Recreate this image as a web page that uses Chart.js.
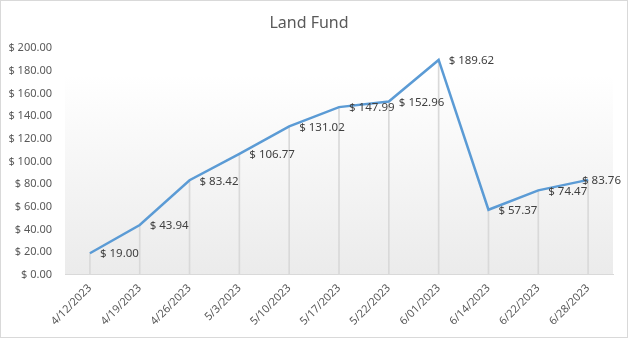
<!DOCTYPE html>
<html><head><meta charset="utf-8">
<script src="https://cdn.jsdelivr.net/npm/chart.js@4/dist/chart.umd.min.js"></script>
<style>
html,body{margin:0;padding:0;background:#fff;}
#wrap{width:628px;height:338px;box-sizing:border-box;border:1px solid #d9d9d9;background:#fff;}
canvas{display:block;}
</style></head><body>
<div id="wrap"><canvas id="c" width="626" height="336"></canvas></div>
<script>
const categories = ['4/12/2023','4/19/2023','4/26/2023','5/3/2023','5/10/2023','5/17/2023','5/22/2023','6/01/2023','6/14/2023','6/22/2023','6/28/2023'];
const landFund = [19.00, 43.94, 83.42, 106.77, 131.02, 147.99, 152.96, 189.62, 57.37, 74.47, 83.76];
const yTicks = [0, 20, 40, 60, 80, 100, 120, 140, 160, 180, 200];

const FONT = "'Noto Sans', 'Open Sans', sans-serif";
const TXT = '#595959';

const bgPlugin = {
  id: 'bg',
  beforeDraw(chart) {
    const {ctx, chartArea: a} = chart;
    const g = ctx.createLinearGradient(0, a.top, 0, a.bottom);
    g.addColorStop(0, '#ffffff');
    g.addColorStop(0.12, '#ffffff');
    g.addColorStop(1, '#ebebeb');
    ctx.save();
    ctx.fillStyle = g;
    ctx.fillRect(a.left, a.top, a.right - a.left, a.bottom - a.top);
    ctx.restore();
  }
};

const labelPlugin = {
  id: 'dlabels',
  afterDatasetsDraw(chart) {
    const meta = chart.getDatasetMeta(1);
    const ds = chart.data.datasets[1];
    const ctx = chart.ctx;
    ctx.save();
    ctx.font = "11.5px " + FONT;
    ctx.fillStyle = '#404040';
    ctx.textBaseline = 'middle';
    ctx.textAlign = 'left';
    meta.data.forEach((pt, i) => {
      const t = '$ ' + ds.data[i].toFixed(2);
      const w = ctx.measureText(t).width;
      let x = pt.x + 10;
      if (x + w > chart.width - 6) x = chart.width - 6 - w;
      ctx.fillText(t, x, pt.y + 1);
    });
    ctx.restore();
  }
};

new Chart(document.getElementById('c'), {
  type: 'bar',
  data: {
    labels: categories,
    datasets: [
      { type: 'bar', data: landFund, backgroundColor: '#d9d9d9', barThickness: 1, order: 2 },
      { type: 'line', data: landFund, borderColor: '#5b9bd5', borderWidth: 2.5, pointRadius: 0, tension: 0, order: 1, fill: false }
    ]
  },
  options: {
    responsive: false,
    animation: false,
    layout: { padding: { left: 4, right: 14, top: 0, bottom: 2 } },
    plugins: {
      legend: { display: false },
      tooltip: { enabled: false },
      title: { display: true, text: 'Land Fund', color: TXT, font: { family: FONT, size: 16, weight: 'normal' }, padding: { top: 13, bottom: 15 } }
    },
    scales: {
      x: {
        offset: true,
        grid: { display: false, drawTicks: false },
        border: { display: true, color: '#d9d9d9', width: 1 },
        ticks: { color: TXT, font: { family: FONT, size: 11 }, maxRotation: 45, minRotation: 45, padding: 7, autoSkip: false }
      },
      y: {
        min: 0, max: 200,
        afterBuildTicks(scale) { scale.ticks = yTicks.map(v => ({ value: v })); },
        afterFit(scale) { scale.width = 60; },
        grid: { display: false, drawTicks: false },
        border: { display: false },
        ticks: { color: TXT, font: { family: FONT, size: 11 }, padding: 13, callback: v => '$ ' + Number(v).toFixed(2) }
      }
    }
  },
  plugins: [bgPlugin, labelPlugin]
});
</script>
</body></html>
